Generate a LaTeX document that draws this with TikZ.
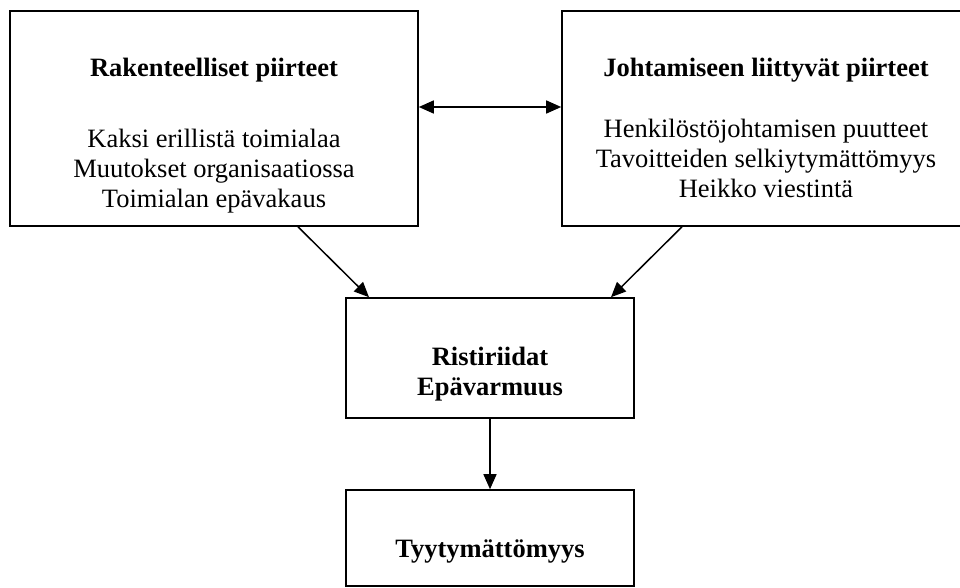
\documentclass[tikz,border=0pt]{standalone}
\usepackage{fontspec}
\setmainfont{Liberation Serif}
\usetikzlibrary{arrows.meta}

\begin{document}
\begin{tikzpicture}[x=1pt,y=-1pt,
	box/.style={draw,line width=1.6pt,inner sep=0pt},
	txt/.style={font=\fontsize{26.5}{30}\selectfont,align=center,inner sep=0pt},
	arr/.style={line width=1.5pt,-{Triangle[length=15pt,width=13pt]}}]
	\useasboundingbox (0,0) rectangle (960,587);
	% laatikot
	\node[box,minimum width=408pt,minimum height=215pt] (rak) at (214,118.5) {};
	\node[box,minimum width=408pt,minimum height=215pt] (joh) at (766,118.5) {};
	\node[box,minimum width=288pt,minimum height=120pt] (ris) at (490,358) {};
	\node[box,minimum width=288pt,minimum height=96pt] (tyy) at (490,538) {};
	% tekstit
	\node[txt,anchor=north] (rakT) at (214,58) {\textbf{Rakenteelliset piirteet}\\[41pt]
		Kaksi erillistä toimialaa\\ Muutokset organisaatiossa\\ Toimialan epävakaus};
	\node[txt,anchor=north] (johT) at (766,58) {\textbf{Johtamiseen liittyvät piirteet}\\[31pt]
		Henkilöstöjohtamisen puutteet\\ Tavoitteiden selkiytymättömyys\\ Heikko viestintä};
	\node[txt,anchor=north,font=\fontsize{26.5}{30}\selectfont\bfseries] (risT) at (490,347) {Ristiriidat\\ Epävarmuus};
	\node[txt,anchor=base,font=\fontsize{26.5}{30}\selectfont\bfseries] (tyyT) at (490,557) {Tyytymättömyys};
	% nuolet
	\draw[arr,{Triangle[length=15pt,width=13pt]}-{Triangle[length=15pt,width=13pt]}]
		([yshift=11.5pt]rak.east) -- ([yshift=11.5pt]joh.west);
	\draw[arr] ([xshift=84pt]rak.south) -- ([xshift=-121pt]ris.north);
	\draw[arr] ([xshift=-84pt]joh.south) -- ([xshift=121pt]ris.north);
	\draw[arr] (ris.south) -- (tyy.north);
\end{tikzpicture}
\end{document}
